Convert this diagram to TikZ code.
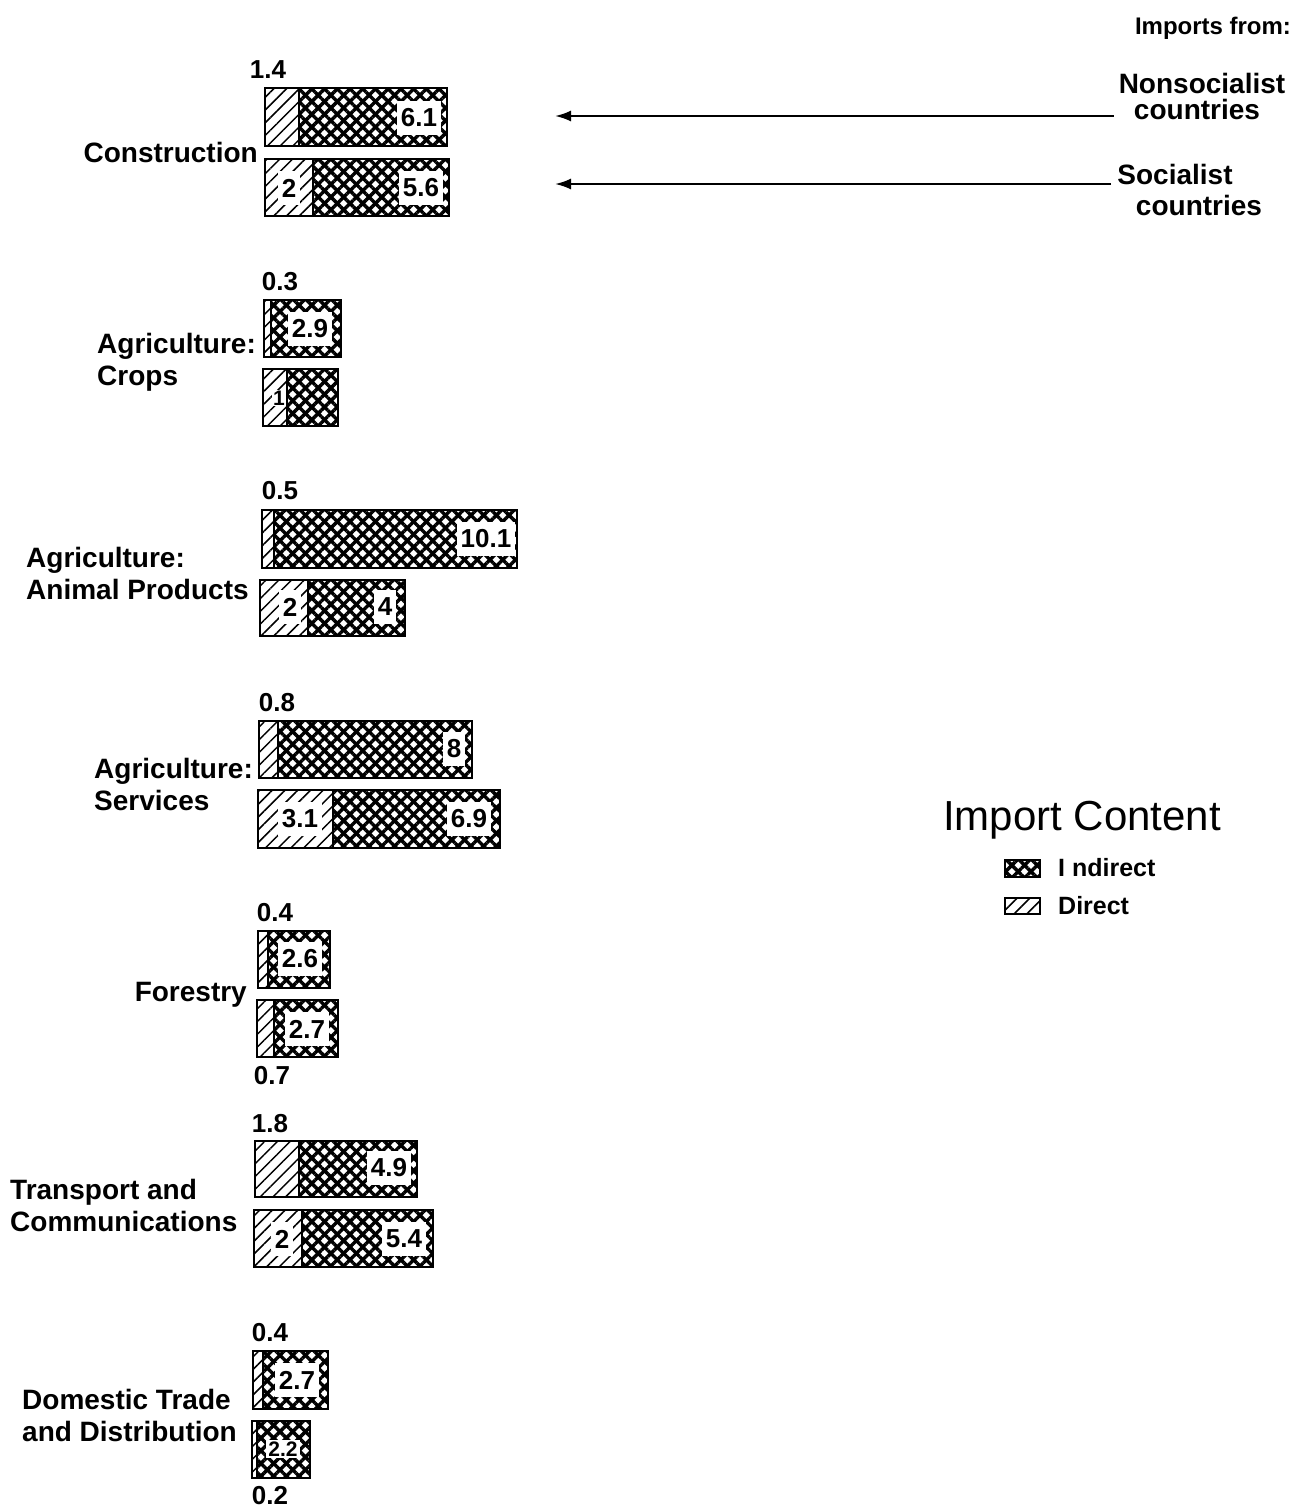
\documentclass[tikz,border=0pt]{standalone}
\usepackage{fontspec}
\setmainfont{Liberation Sans}
\usetikzlibrary{patterns.meta,arrows.meta}

\tikzset{
  bar/.style={draw, line width=2.6pt},
  direct/.style={bar, pattern={Lines[angle=45,distance=9pt,line width=1.5pt]}},
  indirect/.style={bar, preaction={pattern={Lines[angle=45,distance=9pt,line width=3.4pt]}},
    pattern={Lines[angle=-45,distance=9pt,line width=3.4pt]}},
  val/.style={fill=white, inner sep=4pt, minimum height=34pt, font=\bfseries\fontsize{26}{28}\selectfont},
  num/.style={inner sep=0pt, font=\bfseries\fontsize{26}{28}\selectfont},
  sector/.style={align=left, inner sep=0pt, font=\bfseries\fontsize{28}{32}\selectfont},
  head/.style={inner sep=0pt, font=\bfseries\fontsize{28}{30}\selectfont},
  key/.style={inner sep=0pt, font=\bfseries\fontsize{25}{27}\selectfont},
  arr/.style={line width=2.2pt, -{Latex[length=16pt,width=11pt]}}
}

\begin{document}
\begin{tikzpicture}[x=1pt,y=-1pt]
\useasboundingbox (0,0) rectangle (1309,1508);

\draw[direct] (265,88) rectangle (299,146);
\draw[indirect] (299,88) rectangle (447,146);
\draw[direct] (265,159) rectangle (313,216);
\draw[indirect] (313,159) rectangle (449,216);

\draw[direct] (264,300) rectangle (271,357);
\draw[indirect] (271,300) rectangle (341,357);
\draw[direct] (263,369) rectangle (287,426);
\draw[indirect] (287,369) rectangle (338,426);

\draw[direct] (262,510) rectangle (274,568);
\draw[indirect] (274,510) rectangle (517,568);
\draw[direct] (260,580) rectangle (308,636);
\draw[indirect] (308,580) rectangle (405,636);

\draw[direct] (259,721) rectangle (278,778);
\draw[indirect] (278,721) rectangle (472,778);
\draw[direct] (258,790) rectangle (333,848);
\draw[indirect] (333,790) rectangle (500,848);

\draw[direct] (258,931) rectangle (268,988);
\draw[indirect] (268,931) rectangle (330,988);
\draw[direct] (257,1000) rectangle (274,1057);
\draw[indirect] (274,1000) rectangle (338,1057);

\draw[direct] (255,1141) rectangle (299,1197);
\draw[indirect] (299,1141) rectangle (417,1197);
\draw[direct] (254,1210) rectangle (302,1267);
\draw[indirect] (302,1210) rectangle (433,1267);

\draw[direct] (253,1351) rectangle (263,1409);
\draw[indirect] (263,1351) rectangle (328,1409);
\draw[direct] (252,1421) rectangle (257,1478);
\draw[indirect] (257,1421) rectangle (310,1478);

% values
\node[val] (conNi) at (419,118) {6.1};
\node[val] (conSd) at (289,188) {2};
\node[val] (conSi) at (421,188) {5.6};
\node[num] (conNd) at (268,70) {1.4};
\node[val] (crpNi) at (310,329) {2.9};
\node[val, inner sep=1pt, minimum height=0pt, font=\bfseries\fontsize{21}{23}\selectfont] (crpSd) at (279,398) {1};
\node[num] (crpNd) at (280,282) {0.3};
\node[val] (aniNi) at (486,539) {10.1};
\node[val] (aniSd) at (290,607) {2};
\node[val] (aniSi) at (385,607) {4};
\node[num] (aniNd) at (280,491) {0.5};
\node[val] (serNi) at (454,749) {8};
\node[val] (serSd) at (300,819) {3.1};
\node[val] (serSi) at (469,819) {6.9};
\node[num] (serNd) at (277,703) {0.8};
\node[val] (forNi) at (300,959) {2.6};
\node[val] (forSi) at (307,1029) {2.7};
\node[num] (forNd) at (275,913) {0.4};
\node[num] (forSd) at (272,1076) {0.7};
\node[val] (traNi) at (389,1168) {4.9};
\node[val] (traSd) at (282,1239) {2};
\node[val] (traSi) at (404,1239) {5.4};
\node[num] (traNd) at (270,1124) {1.8};
\node[val] (domNi) at (297,1380) {2.7};
\node[val, inner sep=2pt, minimum height=0pt, font=\bfseries\fontsize{21}{23}\selectfont] (domSi) at (283,1449) {2.2};
\node[num] (domNd) at (270,1333) {0.4};
\node[num] (domSd) at (270,1496) {0.2};

% sectors
\node[sector, anchor=east] (con) at (258,152) {Construction};
\node[sector, anchor=west] (crp) at (97,362) {Agriculture:\\Crops};
\node[sector, anchor=west] (ani) at (26,573) {Agriculture:\\Animal Products};
\node[sector, anchor=west] (ser) at (94,784) {Agriculture:\\Services};
\node[sector, anchor=east] (for) at (247,995) {Forestry};
\node[sector, anchor=west] (tra) at (10,1205) {Transport and\\Communications};
\node[sector, anchor=west] (dom) at (22,1415) {Domestic Trade\\and Distribution};

% sources
\node[head, font=\bfseries\fontsize{24}{26}\selectfont] (imp) at (1213,28) {Imports from:};
\node[head] (nonsoc) at (1202,83) {Nonsocialist};
\node[head] (nonsocc) at (1197,109) {countries};
\node[head] (soc) at (1175,174) {Socialist};
\node[head] (socc) at (1199,205) {countries};
\coordinate (nonsocend) at (555,116);
\coordinate (socend) at (555,184);
\draw[arr] ([xshift=-20pt,yshift=-7pt]nonsocc.west) -- (nonsocend);
\draw[arr] ([xshift=-6pt,yshift=-10pt]soc.west) -- (socend);

% legend
\node[inner sep=0pt, font=\fontsize{42}{44}\selectfont] (ttl) at (1082,820) {Import Content};
\draw[indirect, line width=1.5pt] (1005,860) rectangle (1040,877);
\draw[direct, line width=1.5pt] (1005,898) rectangle (1040,914);
\node[key, anchor=west] (ind) at (1058,868) {I ndirect};
\node[key, anchor=west] (dir) at (1058,906) {Direct};
\end{tikzpicture}
\end{document}
